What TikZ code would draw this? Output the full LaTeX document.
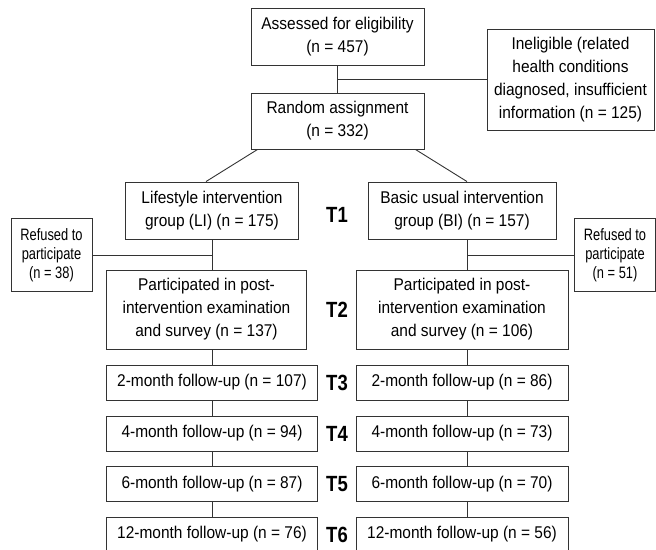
\documentclass[tikz,border=0pt]{standalone}
\usepackage{fontspec}
\setmainfont[FakeStretch=0.91]{Liberation Sans}
\newfontfamily\refusedfont[FakeStretch=0.78]{Liberation Sans}
\newfontfamily\timefont[FakeStretch=0.84]{Liberation Sans}
\begin{document}
\begin{tikzpicture}[x=1pt,y=-1pt,
 box/.style={draw=black!80,line width=.9pt,align=center,inner sep=0pt,
  font=\fontsize{17}{23}\selectfont},
 smallbox/.style={box,font=\refusedfont\fontsize{16.5}{19}\selectfont,minimum width=81pt,minimum height=73pt},
 fubox/.style={box,minimum height=35pt},
 tlab/.style={font=\timefont\fontsize{22}{22}\selectfont\bfseries},
 link/.style={draw=black!80,line width=.9pt}]
 \useasboundingbox (0,0) rectangle (656,549);
 \node[box,minimum width=173pt,minimum height=57pt] (assess) at (337.5,36.5)
  {Assessed for eligibility\\(n = 457)};
 \node[box,minimum width=167pt,minimum height=101pt] (inelig) at (570.5,79.5)
  {Ineligible (related\\health conditions\\diagnosed, insufficient\\information (n = 125)};
 \node[box,minimum width=173pt,minimum height=56pt] (random) at (337.5,121)
  {Random assignment\\(n = 332)};
 \node[box,minimum width=173pt,minimum height=57pt] (li) at (212,210.5)
  {Lifestyle intervention\\group (LI) (n = 175)};
 \node[box,minimum width=188pt,minimum height=57pt] (bi) at (462,210.5)
  {Basic usual intervention\\group (BI) (n = 157)};
 \node[smallbox] (refl) at (51.5,255) {Refused to\\participate\\(n = 38)};
 \node[smallbox] (refr) at (615,255) {Refused to\\participate\\(n = 51)};
 \node[box,minimum width=200pt,minimum height=79pt] (postl) at (206.5,309.5)
  {Participated in post-\\intervention examination\\and survey (n = 137)};
 \node[box,minimum width=212pt,minimum height=79pt] (postr) at (462,309.5)
  {Participated in post-\\intervention examination\\and survey (n = 106)};
 \node[fubox,minimum width=211pt] (twol) at (212,382.5) {2-month follow-up (n = 107)};
 \node[fubox,minimum width=212pt] (twor) at (462,382.5) {2-month follow-up (n = 86)};
 \node[fubox,minimum width=211pt] (fourl) at (212,433.5) {4-month follow-up (n = 94)};
 \node[fubox,minimum width=212pt] (fourr) at (462,433.5) {4-month follow-up (n = 73)};
 \node[fubox,minimum width=211pt] (sixl) at (212,484) {6-month follow-up (n = 87)};
 \node[fubox,minimum width=212pt] (sixr) at (462,484) {6-month follow-up (n = 70)};
 \node[fubox,minimum width=211pt] (twelvel) at (212,534.5) {12-month follow-up (n = 76)};
 \node[fubox,minimum width=212pt] (twelver) at (462,534.5) {12-month follow-up (n = 56)};
 \node[tlab] (t1) at (337,215) {T1};
 \node[tlab] (t2) at (337,310) {T2};
 \node[tlab] (t3) at (337,383) {T3};
 \node[tlab] (t4) at (337,433.5) {T4};
 \node[tlab] (t5) at (337,484) {T5};
 \node[tlab] (t6) at (337,535) {T6};
 \draw[link] (assess) -- (random);
 \draw[link] (assess.south |- inelig.west) -- (inelig.west);
 \draw[link] ([xshift=7pt]random.south west) -- ([xshift=-6pt]li.north);
 \draw[link] ([xshift=-9pt]random.south east) -- ([xshift=5pt]bi.north);
 \draw[link] (li.south) -- (li.south |- postl.north);
 \draw[link] (refl.east) -- (li.south |- refl.east);
 \draw[link] ([xshift=5pt]bi.south) -- ([xshift=5pt]bi.south |- postr.north);
 \draw[link] (refr.west) -- ([xshift=5pt]bi.south |- refr.west);
 \draw[link] (twol.north |- postl.south) -- (twol);
 \draw[link] (twol) -- (fourl);
 \draw[link] (fourl) -- (sixl);
 \draw[link] (sixl) -- (twelvel);
 \draw[link] ([xshift=5pt]twor.north |- postr.south) -- ([xshift=5pt]twor.north);
 \draw[link] ([xshift=5pt]twor.south) -- ([xshift=5pt]fourr.north);
 \draw[link] ([xshift=5pt]fourr.south) -- ([xshift=5pt]sixr.north);
 \draw[link] ([xshift=5pt]sixr.south) -- ([xshift=5pt]twelver.north);
\end{tikzpicture}
\end{document}
